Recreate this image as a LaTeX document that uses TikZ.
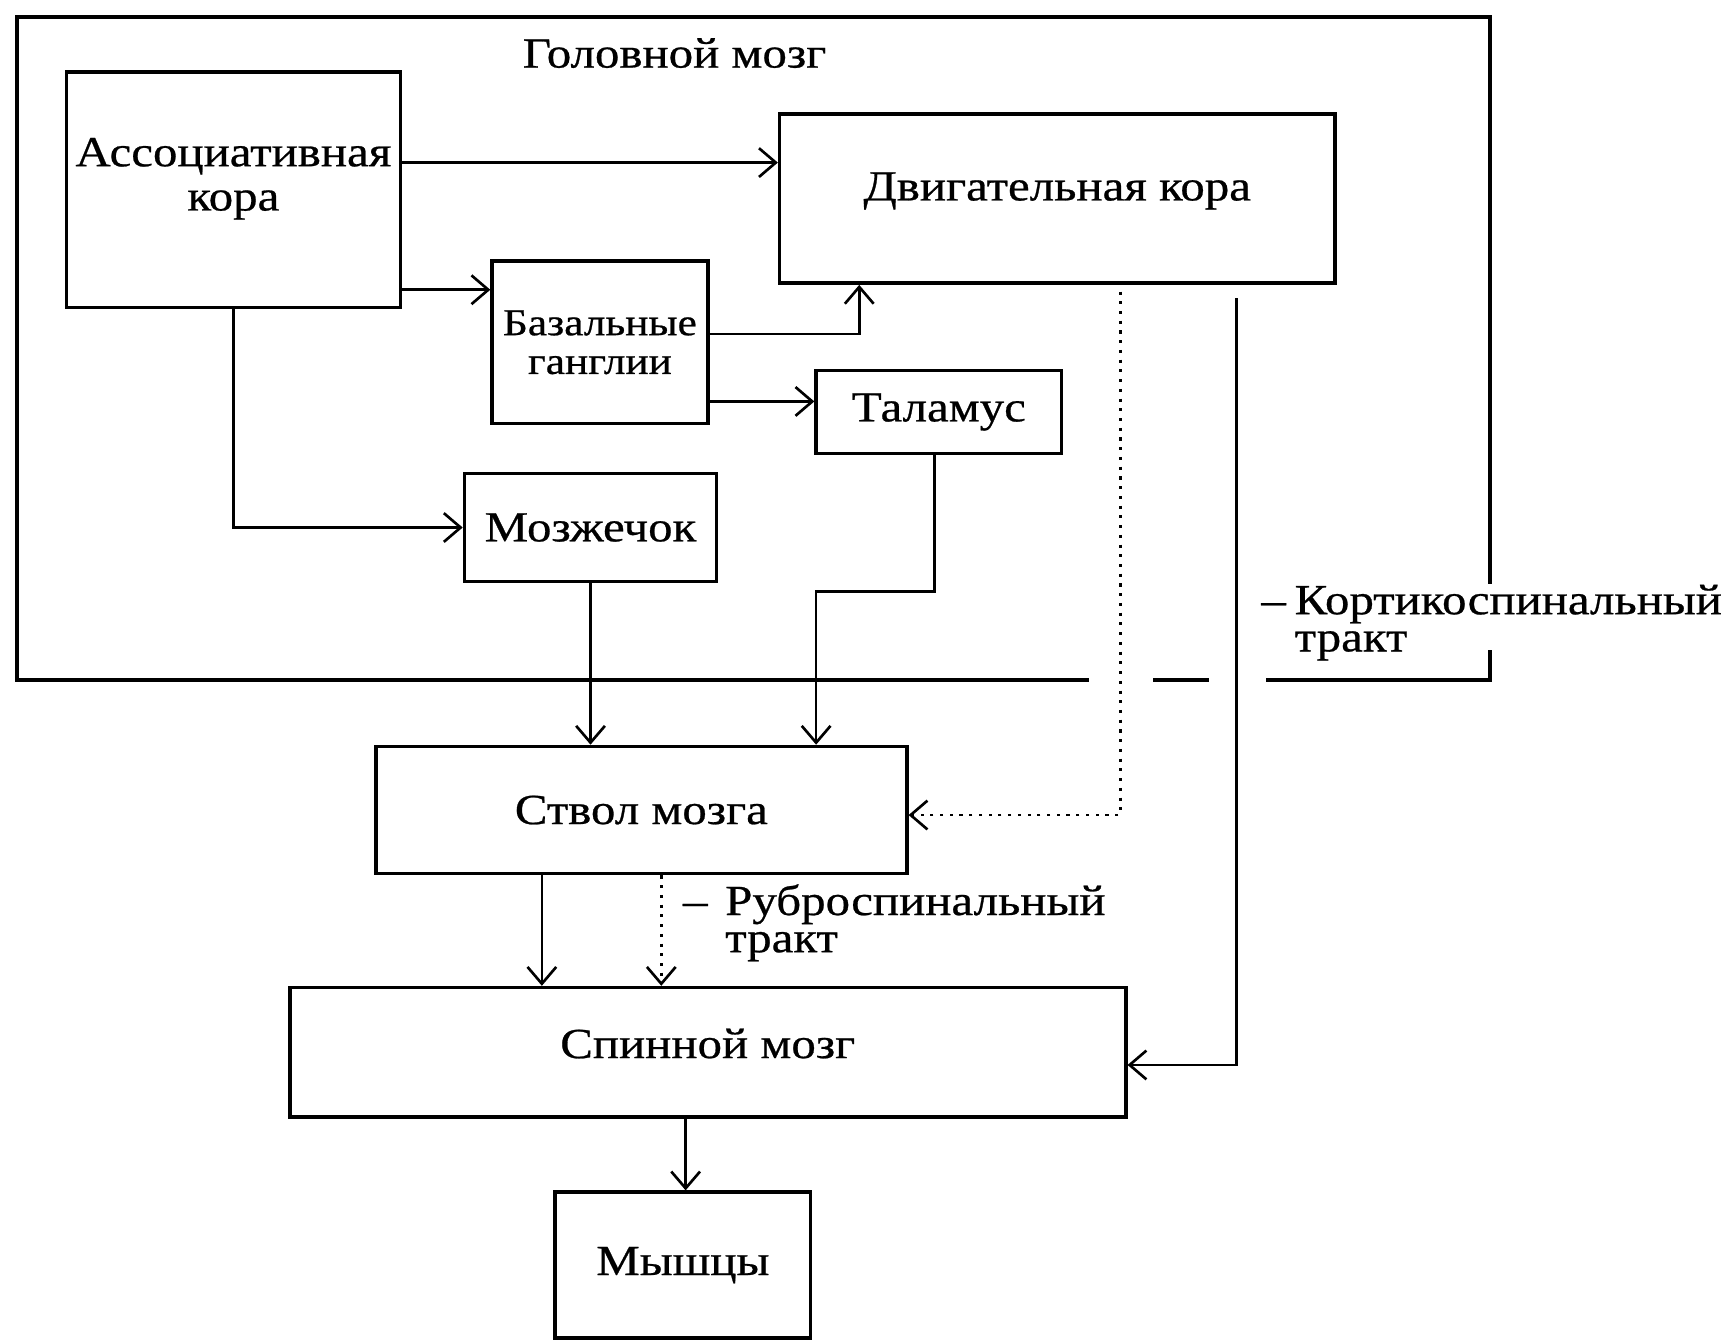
\documentclass[tikz,border=0pt]{standalone}
\usepackage{fontspec}
\setmainfont{Liberation Serif}[FakeStretch=1.14,FakeBold=0.6]
\usetikzlibrary{arrows.meta}
\begin{document}
\begin{tikzpicture}[x=0.25pt,y=-0.25pt,
  box/.style={draw, line width=0.8pt, inner sep=0pt, align=center, font=\fontsize{9.7}{10}\selectfont},
  conn/.style={line width=0.6pt, -{Straight Barb[length=3.8pt,width=6.5pt]}},
  dotconn/.style={conn, dash pattern=on 0.7pt off 1.5pt},
  lbl/.style={font=\fontsize{9.7}{8}\selectfont, align=left, inner sep=0pt},
  frame/.style={line width=0.9pt}]
\useasboundingbox (0,0) rectangle (1568,1214);
% outer frame
\draw[frame] (1347,528) -- (1347,15) -- (15,15) -- (15,615) -- (985,615);
\draw[frame] (1043,615) -- (1093,615);
\draw[frame] (1145,615) -- (1347,615) -- (1347,588);
\node[lbl] (head) at (610,48) {Головной мозг};
% boxes
\node[box, minimum width=75.5pt, minimum height=53.25pt, text depth=7pt] (assoc) at (211,171.5) {Ассоциативная\\кора};
\node[box, minimum width=125.5pt, minimum height=38.25pt, text depth=5.5pt] (motor) at (956,179.5) {Двигательная кора};
\node[box, minimum width=48.75pt, minimum height=36.75pt, font=\fontsize{8.6}{8.75}\selectfont] (basal) at (542.5,309.5) {Базальные\\ганглии};
\node[box, minimum width=55.5pt, minimum height=18.75pt] (thal) at (849,372.5) {Таламус};
\node[box, minimum width=57pt, minimum height=24.5pt] (cereb) at (534,477) {Мозжечок};
\node[box, minimum width=120pt, minimum height=28.75pt] (stem) at (580,732.5) {Ствол мозга};
\node[box, minimum width=189pt, minimum height=29.25pt, text depth=4pt] (spinal) at (640,951.5) {Спинной мозг};
\node[box, minimum width=57.75pt, minimum height=33pt] (muscle) at (617.5,1144) {Мышцы};
% labels
\node[lbl, anchor=base west, font=\fontsize{9.7}{8.4}\selectfont] (cort) at (1170,589) {\llap{–\hspace{2pt}}Кортикоспинальный\\тракт};
\node[lbl, anchor=base west, font=\fontsize{9.7}{8.4}\selectfont] (rubro) at (655,861) {\llap{–\hspace{4pt}}Руброспинальный\\тракт};
% connectors
\draw[conn] (assoc.east |- 0,147) -- (motor.west |- 0,147);
\draw[conn] (assoc.east |- 0,262) -- (basal.west |- 0,262);
\draw[conn] (assoc.south) |- (cereb.west);
\draw[conn] (basal.east |- 0,302) -| (motor.south -| 777,0);
\draw[conn] (basal.east |- 0,363) -- (thal.west |- 0,363);
\draw[conn] (thal.south -| 845,0) |- (738,535) -- (stem.north -| 738,0);
\draw[conn] (cereb.south) -- (cereb.south |- stem.north);
\draw[dotconn, shorten <=1.5pt] (motor.south -| 1013,0) |- (stem.east |- 0,737);
\draw[conn, shorten <=3pt] (motor.south -| 1118,0) |- (spinal.east |- 0,963);
\draw[conn] (stem.south -| 490,0) -- (spinal.north -| 490,0);
\draw[dotconn] (stem.south -| 598,0) -- (spinal.north -| 598,0);
\draw[conn] (spinal.south -| 620,0) -- (muscle.north -| 620,0);
\end{tikzpicture}
\end{document}
